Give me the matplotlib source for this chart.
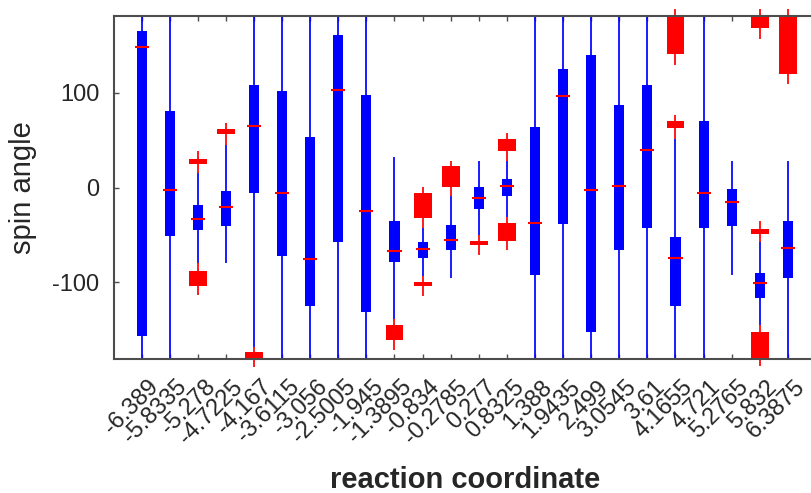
import matplotlib
matplotlib.use('Agg')
import matplotlib.pyplot as plt
import matplotlib.transforms as mtransforms
import numpy as np

plt.rcParams['font.family'] = ['Liberation Sans', 'DejaVu Sans']
plt.rcParams['axes.unicode_minus'] = False

categories = ['-6.389', '-5.8335', '-5.278', '-4.7225', '-4.167', '-3.6115', '-3.056',
              '-2.5005', '-1.945', '-1.3895', '-0.834', '-0.2785', '0.277', '0.8325',
              '1.388', '1.9435', '2.499', '3.0545', '3.61', '4.1655', '4.721', '5.2765',
              '5.832', '6.3875']

# blue boxes: whisker low, q1, median, q3, whisker high
blue_lo = [-181, -181, -79.8, -80, -168.5, -181, -181, -181, -181, -139, -94, -95.7,
           -50, -31, -181, -181, -181, -181, -181, -181, -181, -92.2, -145, -181]
blue_q1 = [-157, -51.7, -45.4, -41, -5.3, -72.8, -125, -58, -131.6, -79.2, -74.6, -66.5,
           -22.2, -9.5, -92, -39, -153, -66, -43.3, -125, -43.3, -41.2, -117.2, -95.7]
blue_med = [148, -2.4, -33.8, -21, 65, -6.3, -76, 103.5, -25.3, -67.6, -65.5, -55,
            -10.9, 2.1, -38, 96.8, -2.4, 2.1, 39.8, -74, -6.3, -14.8, -101.4, -63.4]
blue_q3 = [165.5, 81, -18.3, -3.5, 108, 102, 53.5, 161, 97.6, -35.2, -58, -39.4,
           0.7, 9.2, 63.8, 125, 140, 87, 108, -52, 70.4, -1.7, -90.4, -35.2]
blue_hi = [181, 181, 15.8, 45, 181, 181, 181, 181, 181, 32.4, -43.3, -9.5,
           28.2, 28.2, 181, 181, 181, 181, 181, 51.4, 181, 28.2, -58, 28.2]

# red boxes: category number, whisker low, q1, q3, whisker high
red_cat = [3, 3, 4, 5, 10, 11, 11, 12, 13, 14, 14, 20, 20, 23, 23, 23, 24]
red_lo = [15.8, -113.3, 45, -190, -172, -43.3, -115, -9.5, -71, 28.2, -66.5,
          129.6, 51.4, 157, -58, -189, 109]
red_q1 = [24.3, -104.5, 56, -181, -161.6, -32.7, -104.5, 1, -60.8, 39, -56,
          140.9, 62.7, 168.3, -49.2, -181, 120]
red_q3 = [30, -88, 62, -174, -145, -5.3, -100.3, 22.2, -56, 51.4, -37.3,
          181, 70.4, 181, -44, -153, 181]
red_hi = [38.8, -79.8, 68, -168.5, -139, 0.4, -94, 28, -50, 58, -31,
          188.7, 76.8, 188.7, -35.2, -145, 188.7]

W, H = 811, 493
fig = plt.figure(figsize=(W / 100, H / 100), dpi=100)
ax_bottom_px, ax_top_px = 359.3, 15.7
ax = fig.add_axes([113.5 / W, 1 - ax_bottom_px / H, 702.5 / W, (ax_bottom_px - ax_top_px) / H])

pos = np.arange(1, len(categories) + 1)
bq1 = np.array(blue_q1)
bq3 = np.array(blue_q3)
ax.vlines(pos, blue_lo, blue_hi, color='#0000ff', lw=1.25, zorder=2)
ax.bar(pos, bq3 - bq1, bottom=bq1, width=0.36, color='#0000ff', linewidth=0, zorder=3)
ax.hlines(blue_med, pos - 0.25, pos + 0.25, color='#ff0000', lw=1.5, zorder=4)

rpos = np.array(red_cat)
rq1 = np.array(red_q1)
rq3 = np.array(red_q3)
ax.vlines(rpos, red_lo, red_hi, color='#ff0000', lw=1.25, zorder=5, clip_on=False)
ax.bar(rpos, rq3 - rq1, bottom=rq1, width=0.64, color='#ff0000', linewidth=0,
       zorder=6, clip_on=False)

ax.set_xlim(0, 25)
ax.set_ylim(-181.5, 181.5)
ax.set_yticks([-100, 0, 100])
ax.set_xticks(pos)
ax.set_xticklabels(categories, rotation=45, ha='right', va='top', rotation_mode='anchor')

frame = '#4d4d4d'
for s in ax.spines.values():
    s.set_color(frame)
    s.set_linewidth(1.5)
    s.set_zorder(10)
ax.tick_params(axis='both', direction='in', length=3.5, width=1.0, color=frame,
               top=True, right=False, labelsize=17, labelcolor='#262626')
ax.tick_params(axis='x', pad=12)
ax.tick_params(axis='y', pad=10)

shift = mtransforms.ScaledTranslation(6 / 100, 0, fig.dpi_scale_trans)
for lab in ax.get_xticklabels():
    lab.set_transform(lab.get_transform() + shift)

ax.set_ylabel('spin angle', fontsize=21, color='#262626')
ax.yaxis.label.set_va('center')
ax.yaxis.set_label_coords((23 - 113.5) / 702.5, 0.5)

ax.set_xlabel('reaction coordinate', fontsize=21, fontweight='bold', color='#262626')
ax.xaxis.label.set_va('baseline')
ax.xaxis.set_label_coords(0.5, -(488 - ax_bottom_px) / (ax_bottom_px - ax_top_px))

fig.savefig('out.png', dpi=100)
